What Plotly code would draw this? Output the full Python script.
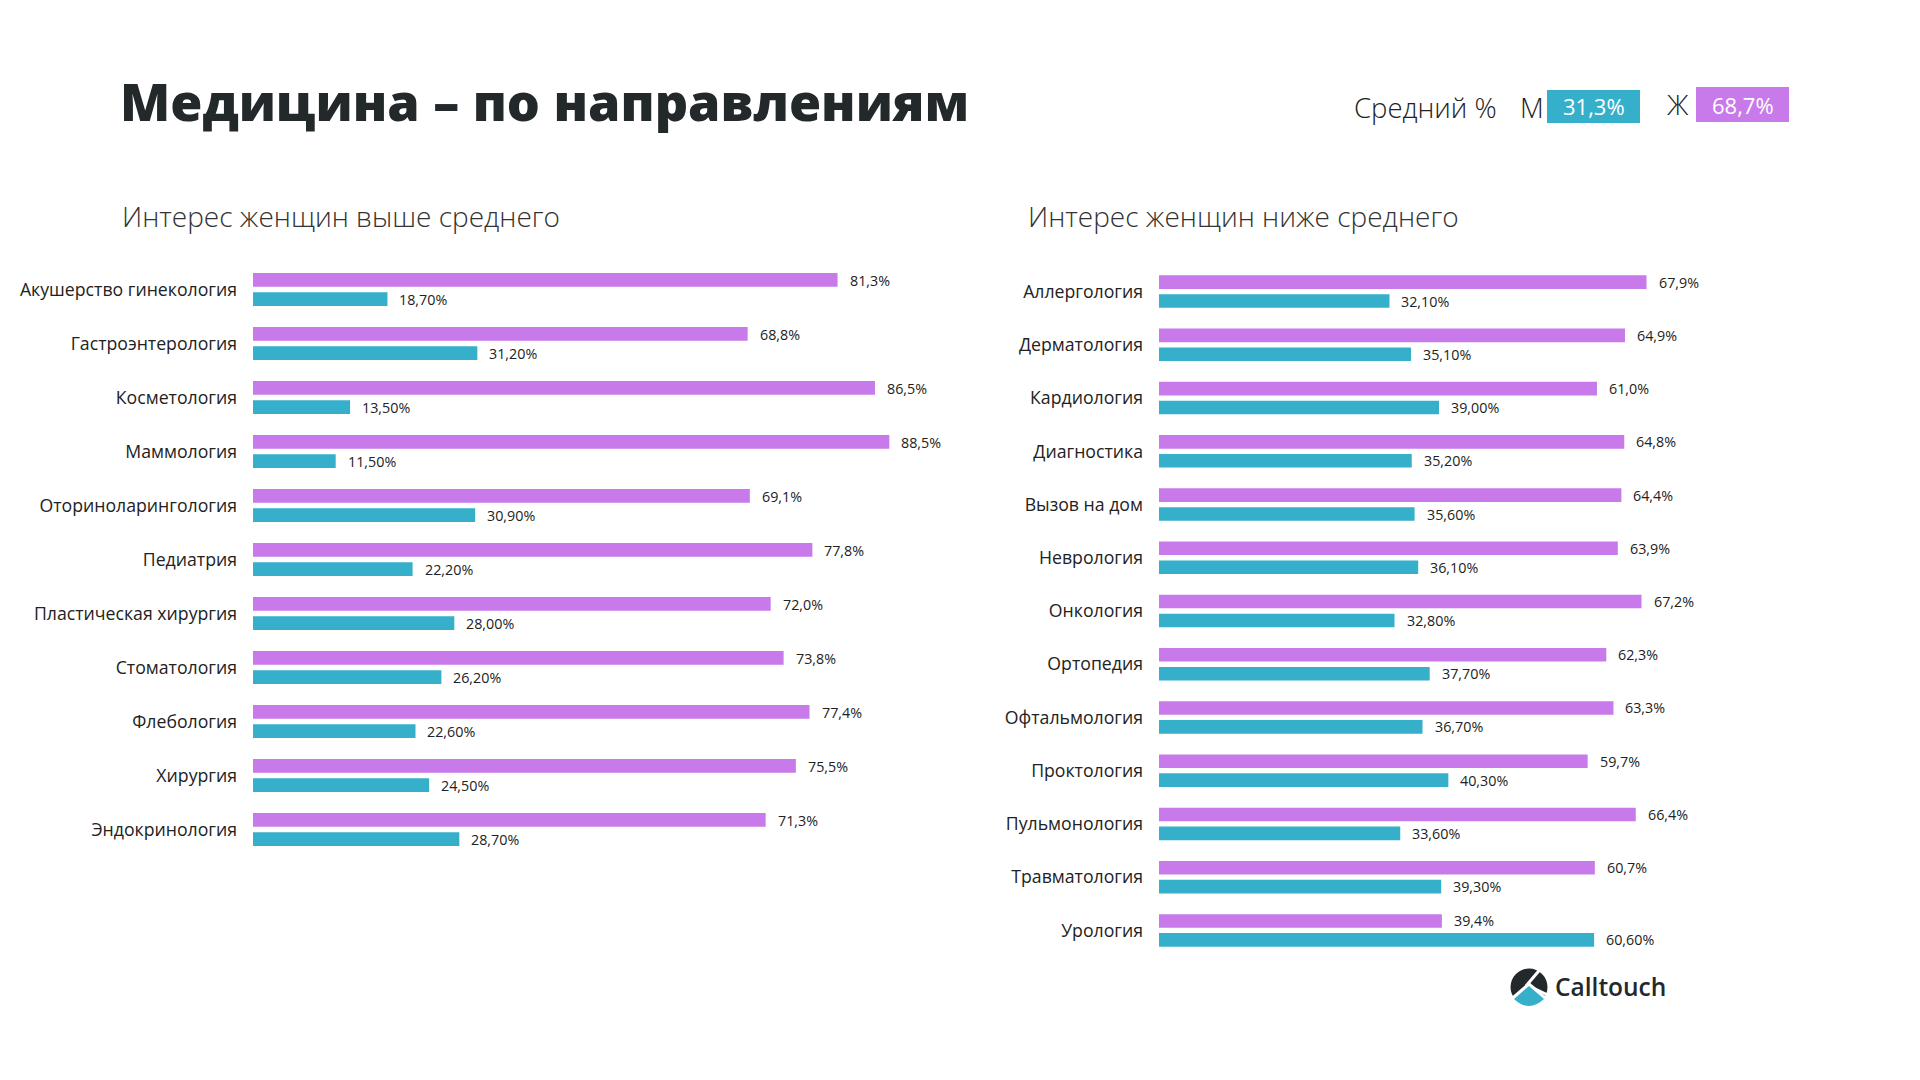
import plotly.graph_objects as go

# ---------------- data ----------------
left_categories = [
    "Акушерство гинекология", "Гастроэнтерология", "Косметология", "Маммология",
    "Оториноларингология", "Педиатрия", "Пластическая хирургия", "Стоматология",
    "Флебология", "Хирургия", "Эндокринология",
]
left_women = [81.3, 68.8, 86.5, 88.5, 69.1, 77.8, 72.0, 73.8, 77.4, 75.5, 71.3]
left_men = [18.70, 31.20, 13.50, 11.50, 30.90, 22.20, 28.00, 26.20, 22.60, 24.50, 28.70]

right_categories = [
    "Аллергология", "Дерматология", "Кардиология", "Диагностика", "Вызов на дом",
    "Неврология", "Онкология", "Ортопедия", "Офтальмология", "Проктология",
    "Пульмонология", "Травматология", "Урология",
]
right_women = [67.9, 64.9, 61.0, 64.8, 64.4, 63.9, 67.2, 62.3, 63.3, 59.7, 66.4, 60.7, 39.4]
right_men = [32.10, 35.10, 39.00, 35.20, 35.60, 36.10, 32.80, 37.70, 36.70, 40.30, 33.60, 39.30, 60.60]

avg_men = 31.3
avg_women = 68.7

title_text = "Медицина – по направлениям"
subtitle_left = "Интерес женщин выше среднего"
subtitle_right = "Интерес женщин ниже среднего"
legend_label = "Средний %"
men_label = "М"
women_label = "Ж"
brand = "Calltouch"

# ---------------- style ----------------
PURPLE = "#C87AEA"
TEAL = "#36AFCB"
DARK = "#23282B"
TEXT = "#222222"
FONT = "Open Sans"
W, H = 1920, 1080
OFF = 8  # page body margin compensation


def px(x):
    return (x - OFF) / W


def py(y):
    return 1 - (y - OFF) / H


def fmt(v, d):
    return f"{v:.{d}f}".replace(".", ",") + "%"


fig = go.Figure()

for cats, women, men, xa, ya in [
    (left_categories, left_women, left_men, "x", "y"),
    (right_categories, right_women, right_men, "x2", "y2"),
]:
    fig.add_trace(go.Bar(y=cats, x=women, orientation="h", marker=dict(color=PURPLE, line=dict(width=0)),
                         xaxis=xa, yaxis=ya, showlegend=False, hoverinfo="skip"))
    fig.add_trace(go.Bar(y=cats, x=men, orientation="h", marker=dict(color=TEAL, line=dict(width=0)),
                         xaxis=xa, yaxis=ya, showlegend=False, hoverinfo="skip"))

annotations = []
for cats, women, men, xa, ya in [
    (left_categories, left_women, left_men, "x", "y"),
    (right_categories, right_women, right_men, "x2", "y2"),
]:
    for c, w, m in zip(cats, women, men):
        annotations.append(dict(x=w, y=c, xref=xa, yref=ya, text=fmt(w, 1), showarrow=False,
                                xanchor="left", yanchor="middle", xshift=10, yshift=9.5,
                                font=dict(family=FONT, size=14.3, color=TEXT)))
        annotations.append(dict(x=m, y=c, xref=xa, yref=ya, text=fmt(m, 2), showarrow=False,
                                xanchor="left", yanchor="middle", xshift=10, yshift=-9.5,
                                font=dict(family=FONT, size=14.3, color=TEXT)))

# Title
annotations.append(dict(x=px(118), y=py(100.5), xref="paper", yref="paper", text=title_text,
                        showarrow=False, xanchor="left", yanchor="middle",
                        font=dict(family=FONT, size=52, color=DARK, weight=800)))
# Subtitles
annotations.append(dict(x=px(120), y=py(216), xref="paper", yref="paper", text=subtitle_left,
                        showarrow=False, xanchor="left", yanchor="middle",
                        font=dict(family=FONT, size=28, color="#333333", weight=300)))
annotations.append(dict(x=px(1026), y=py(216), xref="paper", yref="paper", text=subtitle_right,
                        showarrow=False, xanchor="left", yanchor="middle",
                        font=dict(family=FONT, size=28, color="#333333", weight=300)))
# Legend
annotations.append(dict(x=px(1352), y=py(107), xref="paper", yref="paper", text=legend_label,
                        showarrow=False, xanchor="left", yanchor="middle",
                        font=dict(family=FONT, size=27.5, color=TEXT, weight=300)))
annotations.append(dict(x=px(1518), y=py(107), xref="paper", yref="paper", text=men_label,
                        showarrow=False, xanchor="left", yanchor="middle",
                        font=dict(family=FONT, size=27.5, color=TEXT, weight=300)))
annotations.append(dict(x=px(1593.5), y=py(106.5), xref="paper", yref="paper", text=fmt(avg_men, 1),
                        showarrow=False, xanchor="center", yanchor="middle",
                        font=dict(family=FONT, size=22, color="white", weight=400)))
annotations.append(dict(x=px(1665), y=py(105), xref="paper", yref="paper", text=women_label,
                        showarrow=False, xanchor="left", yanchor="middle",
                        font=dict(family=FONT, size=27.5, color=TEXT, weight=300)))
annotations.append(dict(x=px(1742.5), y=py(104.5), xref="paper", yref="paper", text=fmt(avg_women, 1),
                        showarrow=False, xanchor="center", yanchor="middle",
                        font=dict(family=FONT, size=22, color="white", weight=400)))
# Brand
annotations.append(dict(x=px(1553), y=py(986), xref="paper", yref="paper", text=brand,
                        showarrow=False, xanchor="left", yanchor="middle",
                        font=dict(family=FONT, size=24.5, color=DARK, weight=600)))

shapes = [
    dict(type="rect", xref="paper", yref="paper", x0=px(1547), x1=px(1640), y0=py(123), y1=py(90),
         fillcolor=TEAL, line=dict(width=0), layer="below"),
    dict(type="rect", xref="paper", yref="paper", x0=px(1696), x1=px(1789), y0=py(122), y1=py(87),
         fillcolor=PURPLE, line=dict(width=0), layer="below"),
    # logo
    dict(type="circle", xref="paper", yref="paper", x0=px(1510.5), x1=px(1547.5), y0=py(1005.5), y1=py(968.5),
         fillcolor=DARK, line=dict(width=0)),
]


def path(points):
    return "M " + " L ".join(f"{px(x):.6f},{py(y):.6f}" for x, y in points) + " Z"


# white separators of logo
shapes.append(dict(type="path", xref="paper", yref="paper",
                   path=path([(1508, 1000), (1529, 982), (1550, 1000), (1550, 1010), (1508, 1010)]),
                   fillcolor="white", line=dict(width=0)))
shapes.append(dict(type="line", xref="paper", yref="paper", x0=px(1543), y0=py(966), x1=px(1526), y1=py(986),
                   line=dict(color="white", width=3)))
shapes.append(dict(type="line", xref="paper", yref="paper", x0=px(1527), y0=py(985), x1=px(1550), y1=py(996),
                   line=dict(color="white", width=2.5)))
# teal fan
fan = (f"M {px(1514):.6f},{py(999):.6f} L {px(1529):.6f},{py(986):.6f} L {px(1544):.6f},{py(999):.6f} "
       f"Q {px(1529):.6f},{py(1013):.6f} {px(1514):.6f},{py(999):.6f} Z")
shapes.append(dict(type="path", xref="paper", yref="paper", path=fan, fillcolor=TEAL, line=dict(width=0)))

axis_common = dict(showgrid=False, zeroline=False, showline=False)

fig.update_layout(
    width=W, height=H,
    margin=dict(l=0, r=0, t=0, b=0),
    paper_bgcolor="white", plot_bgcolor="white",
    barmode="group", bargap=0.29, bargroupgap=0.28,
    xaxis=dict(domain=[px(253), px(972)], range=[0, 100], visible=False, anchor="y", **axis_common),
    yaxis=dict(domain=[py(856.5), py(262.5)], autorange="reversed", type="category", anchor="x",
               ticks="", ticklabelstandoff=15,
               tickfont=dict(family=FONT, size=17.7, color=TEXT), **axis_common),
    xaxis2=dict(domain=[px(1159), px(1877)], range=[0, 100], visible=False, anchor="y2", **axis_common),
    yaxis2=dict(domain=[py(957), py(265)], autorange="reversed", type="category", anchor="x2",
                ticks="", ticklabelstandoff=15,
                tickfont=dict(family=FONT, size=17.7, color=TEXT), **axis_common),
    annotations=annotations,
    shapes=shapes,
)

fig.write_html("out.html")
